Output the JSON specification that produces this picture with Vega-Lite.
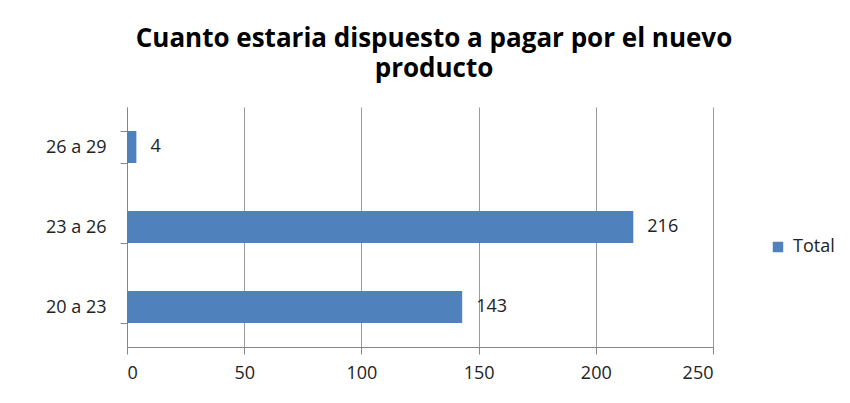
{
  "$schema": "https://vega.github.io/schema/vega-lite/v6.json",
  "autosize": "none",
  "width": 586,
  "height": 240,
  "padding": {"left": 127, "top": 107, "right": 137, "bottom": 56},
  "background": "white",
  "title": {
    "text": "Cuanto estaria dispuesto a pagar por el nuevo",
    "subtitle": "producto",
    "font": "Open Sans",
    "fontSize": 26,
    "fontWeight": "bold",
    "color": "#000000",
    "subtitleFont": "Open Sans",
    "subtitleFontSize": 26,
    "subtitleFontWeight": "bold",
    "subtitleColor": "#000000",
    "subtitlePadding": 4,
    "anchor": "middle",
    "dx": 14,
    "offset": 16
  },
  "data": {
    "values": [
      {"rango": "26 a 29", "serie": "Total", "valor": 4},
      {"rango": "23 a 26", "serie": "Total", "valor": 216},
      {"rango": "20 a 23", "serie": "Total", "valor": 143}
    ]
  },
  "encoding": {
    "y": {
      "field": "rango",
      "type": "nominal",
      "sort": ["26 a 29", "23 a 26", "20 a 23"],
      "title": null,
      "scale": {"paddingInner": 0.6, "paddingOuter": 0.3},
      "axis": {
        "tickBand": "extent",
        "domainColor": "#868686",
        "tickColor": "#868686",
        "tickSize": 7,
        "labelFont": "Open Sans",
        "labelFontSize": 18,
        "labelColor": "#222222",
        "labelPadding": 14,
        "grid": false
      }
    },
    "x": {
      "field": "valor",
      "type": "quantitative",
      "title": null,
      "scale": {"domain": [0, 250]},
      "axis": {
        "values": [0, 50, 100, 150, 200, 250],
        "grid": true,
        "gridColor": "#9a9a9a",
        "domainColor": "#868686",
        "tickColor": "#868686",
        "tickSize": 7,
        "labelFont": "Open Sans",
        "labelFontSize": 18,
        "labelColor": "#222222",
        "labelPadding": 10
      }
    }
  },
  "layer": [
    {
      "mark": {"type": "bar", "color": "#4F81BD"},
      "encoding": {
        "color": {
          "field": "serie",
          "type": "nominal",
          "title": null,
          "scale": {"range": ["#4F81BD"]},
          "legend": {
            "orient": "none",
            "legendX": 642,
            "legendY": 131,
            "symbolType": "square",
            "symbolSize": 110,
            "symbolStrokeWidth": 0,
            "labelFont": "Open Sans",
            "labelFontSize": 18,
            "labelColor": "#222222",
            "labelOffset": 6,
            "padding": 0
          }
        }
      }
    },
    {
      "mark": {"type": "text", "align": "left", "dx": 14, "font": "Open Sans", "fontSize": 18, "color": "#222222"},
      "encoding": {"text": {"field": "valor", "type": "quantitative"}}
    }
  ],
  "config": {"view": {"stroke": null}}
}
